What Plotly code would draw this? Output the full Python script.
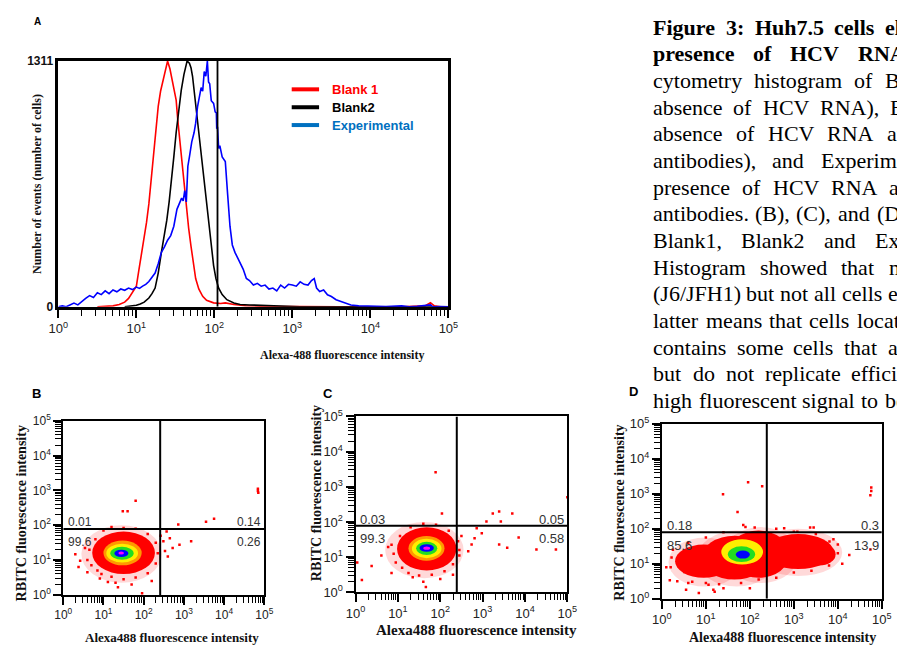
import math
import plotly.graph_objects as go

# page is 905x657; the browser body keeps its default 8px margin, so the figure is 889x641
PAGE_OFF = 8
W, H = 889, 641

# ---------------- Panel A: histogram (log10 Alexa-488 intensity vs number of events)
blank1_log = [0.50, 0.60, 0.70, 0.78, 0.85, 0.90, 0.95, 1.00, 1.03, 1.06, 1.095, 1.13, 1.16, 1.19,
              1.22, 1.25, 1.28, 1.31, 1.34, 1.37, 1.40, 1.43, 1.45, 1.48, 1.51, 1.53, 1.555, 1.58,
              1.60, 1.62, 1.64, 1.67, 1.70, 1.73, 1.76, 1.80, 1.85, 1.90, 1.99, 2.08, 2.14, 2.25,
              2.40, 2.60, 2.80, 3.20, 3.60, 4.00, 4.40, 4.70, 4.77, 4.82, 4.90, 5.00]
blank1_cnt = [0, 2, 5, 12, 25, 45, 75, 110, 190, 265, 341, 450, 549, 680,
              809, 950, 1069, 1150, 1207, 1270, 1311, 1270, 1224, 1160, 1103, 1000, 895, 790,
              688, 600, 514, 420, 324, 230, 151, 95, 56, 35, 21, 18, 21, 12,
              6, 3, 2, 1, 0, 0, 0, 5, 22, 5, 0, 0]

blank2_log = [0.85, 0.95, 1.00, 1.05, 1.10, 1.16, 1.20, 1.24, 1.28, 1.32, 1.36, 1.39, 1.42, 1.45,
              1.48, 1.51, 1.54, 1.575, 1.61, 1.65, 1.68, 1.70, 1.72, 1.74, 1.77, 1.80, 1.835, 1.87,
              1.90, 1.93, 1.96, 1.99, 2.02, 2.055, 2.10, 2.16, 2.25, 2.33, 2.45, 2.55, 2.70, 2.90,
              3.10, 3.50, 4.00, 5.00]
blank2_cnt = [0, 3, 8, 15, 25, 47, 70, 100, 180, 289, 380, 462, 560, 670,
              800, 930, 1050, 1155, 1240, 1311, 1300, 1276, 1230, 1155, 1060, 947, 800, 670,
              550, 428, 320, 220, 150, 99, 65, 38, 20, 12, 10, 8, 5, 2,
              0, 0, 0, 0]

exp_log = [0.00, 0.05, 0.10, 0.15, 0.20, 0.25, 0.30, 0.35, 0.40, 0.45, 0.50, 0.55, 0.60, 0.65,
           0.70, 0.75, 0.80, 0.85, 0.90, 0.95, 1.00, 1.04, 1.08, 1.12, 1.16, 1.20, 1.24, 1.28,
           1.32, 1.36, 1.40, 1.44, 1.48, 1.52, 1.555, 1.58, 1.60, 1.62, 1.64, 1.66, 1.68, 1.71,
           1.74, 1.76, 1.785, 1.81, 1.83, 1.85, 1.87, 1.89, 1.91, 1.925, 1.94, 1.96, 1.99, 2.01,
           2.025, 2.03, 2.04, 2.055, 2.07, 2.10, 2.14, 2.17, 2.20, 2.23, 2.265, 2.30, 2.33, 2.37,
           2.41, 2.45, 2.50, 2.55, 2.60, 2.65, 2.70, 2.75, 2.80, 2.85, 2.90, 2.95, 3.00, 3.05,
           3.10, 3.15, 3.20, 3.245, 3.28, 3.31, 3.35, 3.40, 3.45, 3.50, 3.56, 3.62, 3.68, 3.75,
           3.85, 4.00, 4.20, 4.40, 4.50, 4.60, 4.77, 4.80, 4.90, 5.00]
exp_cnt = [0, 5, 0, 8, 20, 10, 30, 45, 60, 50, 75, 65, 85, 70,
           90, 80, 95, 88, 100, 92, 105, 98, 110, 120, 135, 160, 180, 230,
           290, 320, 355, 380, 430, 520, 550, 580, 565, 620, 560, 750, 800, 880,
           930, 980, 1070, 1120, 1170, 1150, 1255, 1230, 1311, 1200, 1190, 1100, 1085, 1040,
           1035, 950, 960, 845, 860, 800, 775, 600, 430, 330, 289, 260, 237, 200,
           151, 140, 116, 125, 110, 116, 95, 100, 85, 116, 100, 120, 116, 110,
           133, 120, 116, 140, 151, 100, 82, 90, 64, 55, 38, 30, 20, 10,
           5, 3, 2, 5, 0, 3, 10, 0, 2, 0]

gate_A = 2.04
ymax_A = 1311
legend_names = ["Blank 1", "Blank2", "Experimental"]

# ---------------- Panels B, C, D: density dot plots (log10 units)
# density levels: (level, x_lo, x_hi, y_lo, y_hi)
cloud_B = [("halo", 0.45, 2.45, 0.35, 2.00), ("red", 0.72, 2.28, 0.60, 1.82),
           ("orange", 1.00, 1.95, 0.85, 1.56), ("yellow", 1.07, 1.86, 0.93, 1.47),
           ("green", 1.17, 1.75, 1.01, 1.38), ("blue", 1.27, 1.62, 1.09, 1.30),
           ("magenta", 1.37, 1.51, 1.16, 1.25)]
cloud_C = [("halo", 0.70, 2.55, 0.40, 2.00), ("red", 0.98, 2.38, 0.62, 1.85),
           ("orange", 1.25, 2.10, 0.90, 1.60), ("yellow", 1.33, 2.03, 0.97, 1.52),
           ("green", 1.43, 1.93, 1.06, 1.44), ("blue", 1.51, 1.85, 1.15, 1.37),
           ("magenta", 1.60, 1.76, 1.21, 1.30)]
cloud_D = [("halo", 0.15, 1.80, 0.35, 1.75), ("halo", 0.80, 2.60, 0.35, 1.95),
           ("halo", 1.40, 3.10, 0.45, 2.05), ("halo", 2.10, 4.10, 0.65, 2.00),
           ("red", 0.30, 1.60, 0.60, 1.55), ("red", 0.90, 2.40, 0.55, 1.80),
           ("red", 1.50, 2.90, 0.60, 1.95), ("red", 2.30, 3.90, 0.85, 1.85),
           ("red", 3.20, 3.95, 0.95, 1.60),
           ("yellow", 1.35, 2.30, 0.98, 1.70), ("green", 1.50, 2.12, 1.05, 1.50),
           ("blue", 1.68, 2.00, 1.15, 1.38)]

dots_B_x = [1.80, 1.48, 1.60, 4.84, 4.84, 4.85, 3.75, 3.55, 2.86, 3.18, 2.57, 2.65, 2.49, 2.53,
            2.89, 1.96, 0.30, 0.42, 0.54, 0.91, 1.11, 1.36, 2.42, 2.60, 0.38, 2.72, 0.60, 2.20,
            0.60, 0.65, 0.70, 0.80, 0.85, 1.00, 1.20, 1.50, 1.80, 2.10, 2.30, 2.35, 2.30, 2.10,
            1.80, 1.50, 1.20, 0.95, 1.70, 1.30]
dots_B_y = [2.70, 2.40, 2.40, 3.05, 2.98, 2.93, 2.19, 2.10, 2.02, 1.54, 1.82, 1.63, 1.54, 1.26,
            1.44, 0.05, 1.17, 0.98, 1.35, 0.47, 0.37, 0.22, 1.70, 1.10, 0.80, 1.35, 0.65, 0.40,
            1.00, 1.30, 0.85, 1.60, 0.70, 1.85, 1.95, 1.92, 1.90, 1.75, 1.50, 1.20, 0.90, 0.62,
            0.50, 0.45, 0.52, 0.60, 0.30, 0.35]
dots_C_x = [1.89, 2.04, 3.39, 3.24, 3.70, 3.43, 3.09, 2.86, 2.98, 3.85, 3.58, 3.39, 4.27, 4.73,
            5.00, 2.74, 2.81, 2.66, 0.04, 0.15, 0.38, 0.61, 0.77, 1.66, 1.35, 2.50, 2.45, 0.85, 2.30,
            0.90, 0.85, 0.95, 1.05, 1.10, 1.30, 1.60, 1.90, 2.20, 2.42, 2.45, 2.30, 2.10, 1.80,
            1.50, 1.25, 1.60, 2.00]
dots_C_y = [3.41, 2.24, 2.30, 2.24, 2.24, 2.01, 2.01, 1.82, 1.68, 1.56, 1.27, 1.36, 1.22, 1.22,
            2.70, 1.36, 1.54, 1.17, 0.85, 0.35, 0.75, 1.05, 1.29, 0.15, 0.43, 1.60, 1.20, 0.55, 0.50,
            1.10, 1.35, 0.85, 1.60, 0.70, 1.85, 1.95, 1.92, 1.75, 1.45, 1.05, 0.80, 0.60, 0.50,
            0.48, 0.55, 0.30, 0.38]
dots_D_x = [1.96, 2.28, 1.39, 4.76, 4.74, 4.76, 1.72, 1.85, 2.11, 2.78, 3.37, 3.45, 4.26, 4.74,
            0.18, 0.22, 0.55, 0.84, 1.06, 0.69, 0.51, 1.17, 3.89, 4.00, 3.81, 3.08, 0.10, 1.40,
            0.25, 0.20, 0.35, 0.60, 1.00, 1.30, 1.80, 2.20, 2.60, 3.00, 3.40, 3.80, 4.00, 3.90,
            3.50, 3.00, 2.60, 1.90, 1.40, 1.00, 0.60, 4.10, 1.20, 2.00]
dots_D_y = [3.33, 3.22, 2.99, 3.08, 2.96, 3.18, 2.48, 2.11, 2.04, 2.02, 2.04, 2.04, 1.25, 1.41,
            0.53, 1.18, 0.26, 0.17, 0.40, 0.49, 0.77, 0.26, 1.18, 1.55, 1.64, 1.92, 0.90, 0.30,
            1.40, 0.90, 0.50, 0.45, 0.45, 0.42, 0.45, 0.55, 0.60, 0.75, 0.80, 0.95, 1.30, 1.70,
            1.85, 1.92, 2.00, 2.05, 1.90, 1.75, 1.60, 1.00, 0.20, 0.30]

gates = {"B": (2.41, 1.89), "C": (2.39, 1.89), "D": (2.385, 1.90)}
quad = {"B": ["0.01", "0.14", "99.6", "0.26"],
        "C": ["0.03", "0.05", "99.3", "0.58"],
        "D": ["0.18", "0.3", "85.6", "13.9"]}

decade_labels = [f"10<sup>{n}</sup>" for n in range(6)]
decades = list(range(6))
minor_pos = [n + math.log10(k) for n in range(5) for k in range(2, 10)]

level_color = {"halo": "rgba(255,0,0,0.15)", "red": "#FF0000", "orange": "#FF9900",
               "yellow": "#FFEE00", "green": "#22DD22", "blue": "#0000FF", "magenta": "#FF00FF"}

SANS = "Liberation Sans"
SERIF = "Liberation Serif"


def fx(p):
    """reference page pixel -> paper fraction"""
    return (p - PAGE_OFF) / W


def fy(p):
    return 1 - (p - PAGE_OFF) / H


fig = go.Figure()

# ---- Panel A traces
fig.add_trace(go.Scatter(x=blank1_log, y=blank1_cnt, mode="lines", line=dict(color="#FF0000", width=1.6),
                         xaxis="x", yaxis="y", name=legend_names[0]))
fig.add_trace(go.Scatter(x=blank2_log, y=blank2_cnt, mode="lines", line=dict(color="#000000", width=1.6),
                         xaxis="x", yaxis="y", name=legend_names[1]))
fig.add_trace(go.Scatter(x=exp_log, y=exp_cnt, mode="lines", line=dict(color="#0000FF", width=1.6),
                         xaxis="x", yaxis="y", name=legend_names[2]))

panels = [("B", "x2", "y2", cloud_B, dots_B_x, dots_B_y),
          ("C", "x3", "y3", cloud_C, dots_C_x, dots_C_y),
          ("D", "x4", "y4", cloud_D, dots_D_x, dots_D_y)]

shapes = []
for key, xr, yr, cloud, dx, dy in panels:
    for lvl, x0, x1, y0, y1 in cloud:
        shapes.append(dict(type="circle", xref=xr, yref=yr, x0=x0, x1=x1, y0=y0, y1=y1,
                           fillcolor=level_color[lvl], line=dict(width=0), layer="below"))
    fig.add_trace(go.Scatter(x=dx, y=dy, mode="markers", xaxis=xr, yaxis=yr,
                             marker=dict(color="#FF0000", size=2.5, symbol="square"), showlegend=False))
    gx, gy = gates[key]
    shapes.append(dict(type="line", xref=xr, yref=yr, x0=gx, x1=gx, y0=0, y1=5,
                       line=dict(color="black", width=2)))
    shapes.append(dict(type="line", xref=xr, yref=yr, x0=0, x1=5, y0=gy, y1=gy,
                       line=dict(color="black", width=2)))

shapes.append(dict(type="line", xref="x", yref="y", x0=gate_A, x1=gate_A, y0=0, y1=ymax_A,
                   line=dict(color="black", width=1.8)))

# legend of panel A (drawn manually, swatch colours differ from traces)
leg_cols_line = ["#FF0000", "#000000", "#0070C0"]
leg_y = [82.3, 100.7, 119.0]
annotations = []
for name, col, yy in zip(legend_names, leg_cols_line, leg_y):
    shapes.append(dict(type="line", xref="paper", yref="paper", x0=fx(288), x1=fx(316),
                       y0=fy(yy), y1=fy(yy), line=dict(color=col, width=4)))
    annotations.append(dict(text=f"<b>{name}</b>", x=fx(327), y=fy(yy), xref="paper", yref="paper",
                            xanchor="left", yanchor="middle", showarrow=False,
                            font=dict(family=SANS, size=13, color=col)))


def axis_cfg(domain, fs, major_len=8, minor_len=6):
    return dict(domain=domain, range=[0, 5], tickmode="array", tickvals=decades, ticktext=decade_labels,
                ticks="outside", ticklen=major_len, tickwidth=1.5, tickcolor="black",
                minor=dict(tickmode="array", tickvals=minor_pos, ticks="outside", ticklen=minor_len,
                           tickwidth=1, tickcolor="black"),
                showline=True, linewidth=2, linecolor="black", mirror=True,
                showgrid=False, zeroline=False, tickfont=dict(family=SANS, size=fs, color="#222"))


# Panel A axes
xa = axis_cfg([fx(49.3), fx(448.3)], 13)
xa["anchor"] = "y"
xa["linewidth"] = 2.5
ya = dict(domain=[fy(305.7), fy(53.3)], range=[0, ymax_A], tickmode="array", tickvals=[0, ymax_A],
          ticktext=["<b>0</b>", "<b>1311</b>"], ticks="", showline=True, linewidth=2.5, linecolor="black",
          mirror=True, showgrid=False, zeroline=False, anchor="x",
          tickfont=dict(family=SANS, size=12, color="#111"))

layout_axes = {"xaxis": xa, "yaxis": ya}
boxes = {"B": ((54.3, 260.0), (422.7, 601.7), 12),
         "C": ((353.3, 570.0), (418.3, 599.0), 13),
         "D": ((666.7, 891.7), (426.0, 605.7), 13)}
for i, key in enumerate(["B", "C", "D"], start=2):
    (l, r), (t, b), fs = boxes[key]
    xc = axis_cfg([fx(l), fx(r)], fs)
    xc["anchor"] = f"y{i}"
    yc = axis_cfg([fy(b), fy(t)], fs)
    yc["anchor"] = f"x{i}"
    layout_axes[f"xaxis{i}"] = xc
    layout_axes[f"yaxis{i}"] = yc

# quadrant percentages
for key in ["B", "C", "D"]:
    (l, r), (t, b), fs = boxes[key]
    gx, gy = gates[key]
    ygate = b - gy / 5 * (b - t)
    vals = quad[key]
    pos = [(l + 3, ygate - 7, "left"), (r - 1, ygate - 7, "right"),
           (l + 3, ygate + 13, "left"), (r - 1, ygate + 13, "right")]
    for v, (px_, py_, anc) in zip(vals, pos):
        annotations.append(dict(text=v, x=fx(px_), y=fy(py_), xref="paper", yref="paper",
                                xanchor=anc, yanchor="middle", showarrow=False,
                                font=dict(family=SANS, size=fs, color="#333")))

# axis titles
titles = [("Alexa-488 fluorescence intensity", 339, 355, 0, 12),
          ("Number of events (number of cells)", 28, 180, -90, 12),
          ("Alexa488 fluorescence intensity", 166, 645, 0, 13),
          ("RBITC fluorescence intensity", 12, 518, -90, 14),
          ("Alexa488 fluorescence intensity", 477, 638, 0, 15),
          ("RBITC fluorescence intensity", 313, 497, -90, 14),
          ("Alexa488 fluorescence intensity", 790, 645, 0, 14),
          ("RBITC fluorescence intensity", 623, 517, -90, 14)]
for txt, px_, py_, rot, fs in titles:
    annotations.append(dict(text=f"<b>{txt}</b>", x=fx(px_), y=fy(py_), xref="paper", yref="paper",
                            xanchor="center", yanchor="middle", showarrow=False, textangle=rot,
                            font=dict(family=SERIF, size=fs, color="#111")))

# panel letters
for txt, px_, py_, fs in [("A", 28, 13, 10), ("B", 27, 395, 13), ("C", 325, 395, 13), ("D", 638, 393, 13)]:
    annotations.append(dict(text=f"<b>{txt}</b>", x=fx(px_), y=fy(py_), xref="paper", yref="paper",
                            xanchor="center", yanchor="middle", showarrow=False,
                            font=dict(family=SANS, size=fs, color="black")))

# ---- figure caption (justified text, clipped at the right edge of the page)
reg_w = {' ': 250, '(': 333, ')': 333, ',': 250, '.': 250, '/': 278, ':': 278,
         'A': 722, 'B': 667, 'C': 667, 'D': 722, 'E': 611, 'F': 556, 'H': 722, 'J': 389, 'N': 722,
         'R': 667, 'V': 722, 'a': 444, 'b': 500, 'c': 444, 'd': 500, 'e': 444, 'f': 333, 'g': 500,
         'h': 500, 'i': 278, 'j': 278, 'k': 500, 'l': 278, 'm': 778, 'n': 500, 'o': 500, 'p': 500,
         'q': 500, 'r': 333, 's': 389, 't': 278, 'u': 500, 'v': 500, 'w': 722, 'x': 500, 'y': 500}
bold_w = {':': 333, '.': 250, 'F': 611, 'H': 778, 'C': 722, 'N': 722, 'R': 722, 'V': 722, 'A': 722,
          'a': 500, 'b': 556, 'c': 444, 'd': 556, 'e': 444, 'f': 333, 'g': 500, 'h': 556, 'i': 278,
          'l': 278, 'm': 833, 'n': 556, 'o': 500, 'p': 556, 'r': 444, 's': 389, 't': 333, 'u': 556}
CAP_FS = 22


def word_w(word, bold):
    tab = bold_w if bold else reg_w
    return sum(tab.get(ch, 500) for ch in word) / 1000 * CAP_FS


caption = [
    (True, ["Figure", "3:", "Huh7.5", "cells", "electroporated"], 893),
    (True, ["presence", "of", "HCV", "RNA."], 865),
    (False, ["cytometry", "histogram", "of", "Blank1"], 893),
    (False, ["absence", "of", "HCV", "RNA),", "Blank2"], 898),
    (False, ["absence", "of", "HCV", "RNA", "and"], 895),
    (False, ["antibodies),", "and", "Experimental"], 827.5),
    (False, ["presence", "of", "HCV", "RNA", "and"], 897.5),
    (False, ["antibodies.", "(B),", "(C),", "and", "(D)"], 884.5),
    (False, ["Blank1,", "Blank2", "and", "Experimental"], 883),
    (False, ["Histogram", "showed", "that", "most"], 897),
    (False, ["(J6/JFH1)", "but", "not", "all", "cells", "express"], 896),
    (False, ["latter", "means", "that", "cells", "located"], 864),
    (False, ["contains", "some", "cells", "that", "are"], 896),
    (False, ["but", "do", "not", "replicate", "efficiently"], 858),
    (False, ["high", "fluorescent", "signal", "to", "be"], 893),
]
for i, (bold, words, last_x) in enumerate(caption):
    left = 656
    widths = [word_w(w, bold) for w in words]
    gap = (last_x - left - sum(widths[:-1])) / (len(words) - 1)
    xpos = left
    yline = 18.5 + 27.4 * i
    for w, wd in zip(words, widths):
        annotations.append(dict(text=f"<b>{w}</b>" if bold else w, x=fx(xpos), y=fy(yline),
                                xref="paper", yref="paper", xanchor="left", yanchor="middle",
                                showarrow=False, font=dict(family=SERIF, size=CAP_FS, color="black")))
        xpos += wd + gap

fig.update_layout(width=W, height=H, margin=dict(l=0, r=0, t=0, b=0),
                  paper_bgcolor="white", plot_bgcolor="white", showlegend=False,
                  shapes=shapes, annotations=annotations, **layout_axes)

fig.write_html("out.html", include_plotlyjs=True, full_html=True,
               config={"displayModeBar": False})
